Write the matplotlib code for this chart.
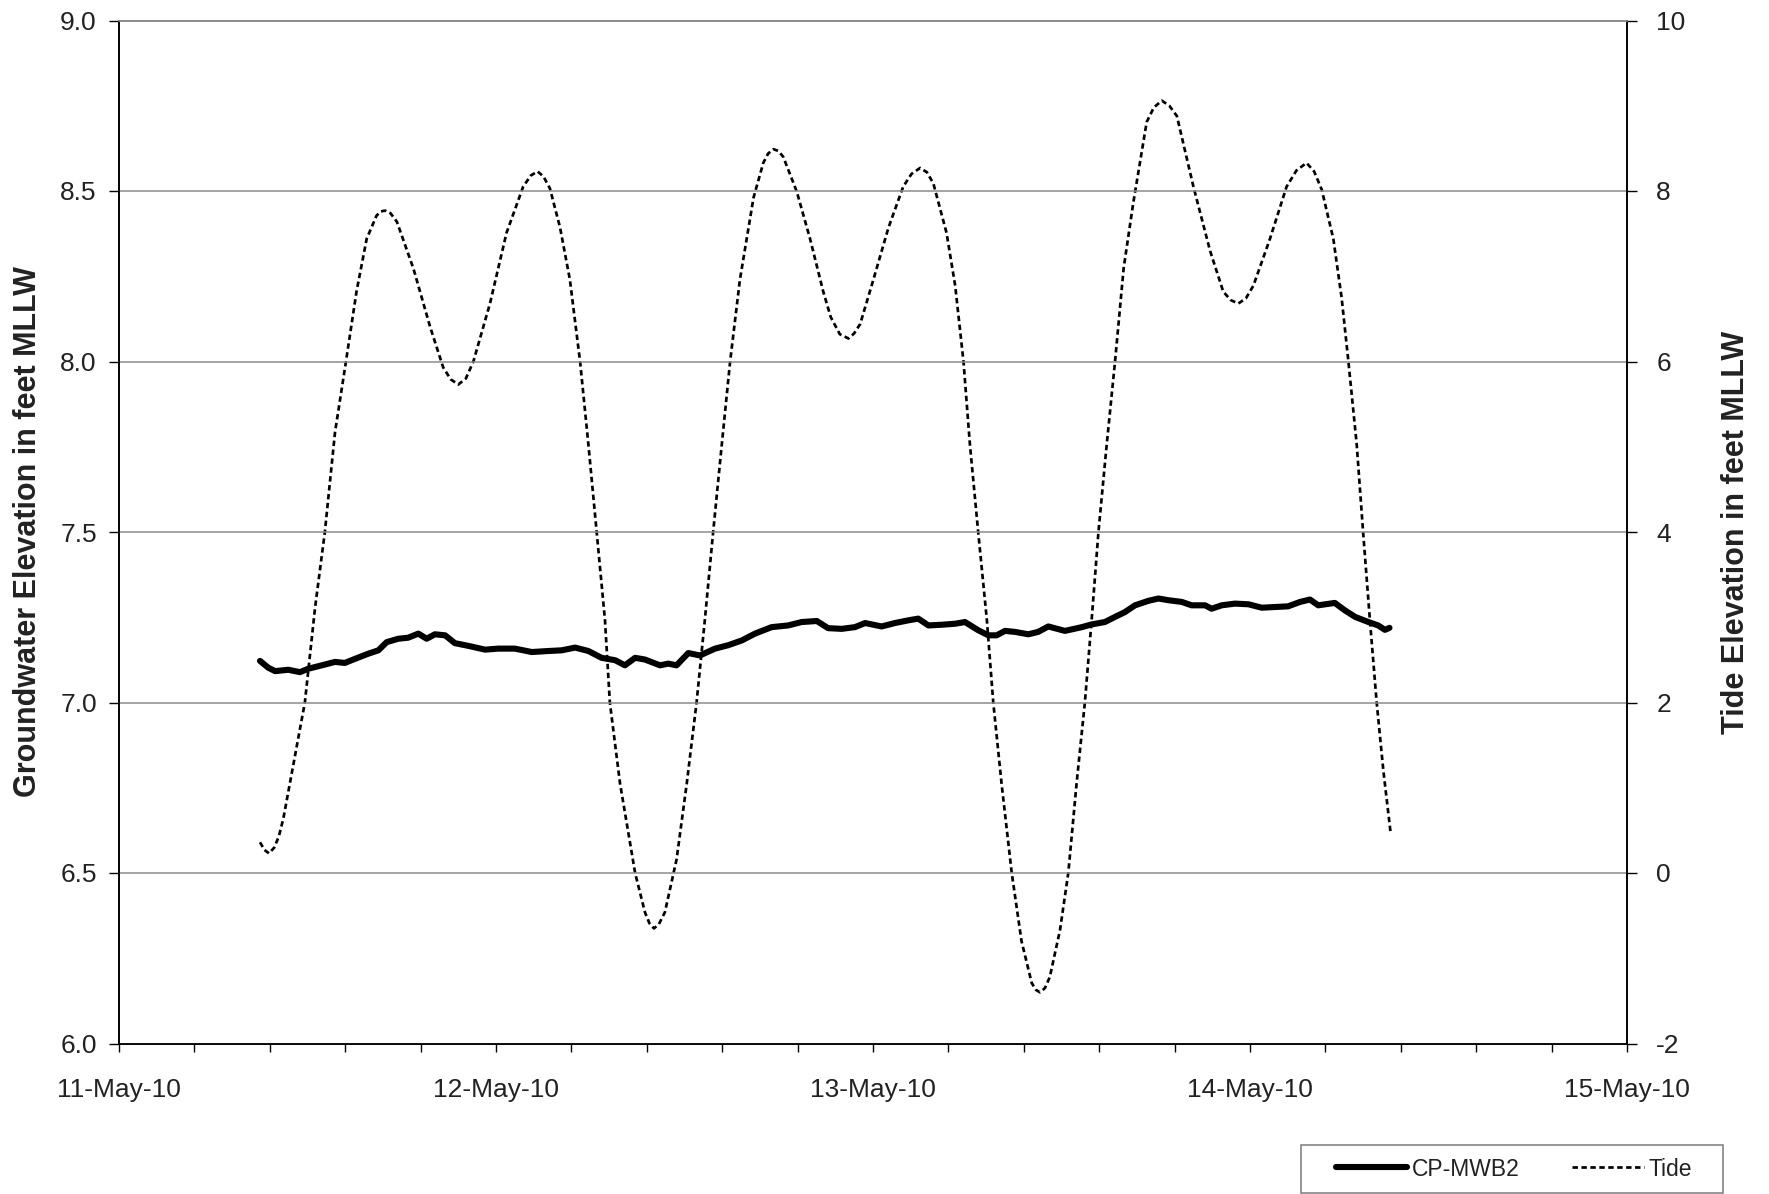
import datetime as dt
import matplotlib
matplotlib.use("Agg")
import matplotlib.pyplot as plt
import matplotlib.dates as mdates
from matplotlib.ticker import MultipleLocator, FormatStrFormatter
from matplotlib.patches import Rectangle

plt.rcParams["font.family"] = ["Liberation Sans", "DejaVu Sans"]
plt.rcParams["axes.unicode_minus"] = False

# Series start reference: times are stored as fractional days after 11-May-2010 00:00
start = dt.datetime(2010, 5, 11)

# Tide elevation (ft MLLW), right axis
tide_day = [
    0.374, 0.386, 0.398, 0.412, 0.424, 0.436, 0.462, 0.493, 0.520, 0.546,
    0.573, 0.602, 0.630, 0.657, 0.683, 0.694, 0.706, 0.720, 0.737, 0.781,
    0.825, 0.860, 0.880, 0.900, 0.920, 0.940, 0.984, 1.028, 1.072, 1.092,
    1.110, 1.126, 1.143, 1.170, 1.196, 1.223, 1.245, 1.267, 1.289, 1.302,
    1.329, 1.369, 1.395, 1.407, 1.419, 1.432, 1.448, 1.479, 1.506, 1.532,
    1.554, 1.576, 1.599, 1.621, 1.647, 1.683, 1.709, 1.722, 1.736, 1.749,
    1.762, 1.798, 1.833, 1.868, 1.888, 1.912, 1.935, 1.950, 1.966, 2.001,
    2.041, 2.080, 2.102, 2.125, 2.143, 2.160, 2.195, 2.218, 2.240, 2.257,
    2.279, 2.302, 2.319, 2.341, 2.368, 2.394, 2.421, 2.432, 2.443, 2.456,
    2.469, 2.496, 2.518, 2.540, 2.562, 2.580, 2.598, 2.620, 2.642, 2.665,
    2.690, 2.726, 2.745, 2.766, 2.786, 2.806, 2.850, 2.894, 2.929, 2.949,
    2.969, 2.989, 3.009, 3.053, 3.097, 3.123, 3.150, 3.170, 3.190, 3.221,
    3.243, 3.261, 3.283, 3.300, 3.318, 3.336, 3.354, 3.373,
]
tide_ft = [
    0.36, 0.27, 0.23, 0.30, 0.43, 0.64, 1.26, 2.00, 3.11, 4.00,
    5.17, 6.00, 6.82, 7.44, 7.71, 7.76, 7.77, 7.74, 7.64, 7.09,
    6.41, 5.93, 5.79, 5.73, 5.80, 6.00, 6.68, 7.51, 8.05, 8.18,
    8.23, 8.17, 8.03, 7.57, 6.96, 6.00, 5.03, 4.00, 2.97, 2.00,
    1.05, 0.00, -0.46, -0.59, -0.65, -0.60, -0.46, 0.16, 1.05, 2.00,
    2.97, 4.00, 5.03, 6.00, 6.96, 7.92, 8.33, 8.44, 8.49, 8.47,
    8.40, 7.99, 7.44, 6.82, 6.52, 6.32, 6.27, 6.33, 6.44, 6.96,
    7.57, 8.05, 8.20, 8.27, 8.22, 8.09, 7.51, 6.89, 6.00, 5.03,
    4.00, 2.97, 2.00, 1.05, 0.00, -0.80, -1.29, -1.37, -1.40, -1.35,
    -1.22, -0.67, 0.00, 1.05, 2.00, 2.97, 4.00, 5.03, 6.00, 7.10,
    7.85, 8.81, 8.98, 9.06, 9.00, 8.88, 8.05, 7.30, 6.82, 6.72,
    6.68, 6.74, 6.89, 7.44, 8.05, 8.24, 8.33, 8.23, 8.02, 7.44,
    6.75, 6.00, 5.03, 4.00, 2.97, 2.00, 1.19, 0.47,
]

# Groundwater elevation at CP-MWB2 (ft MLLW), left axis
gw_day = [
    0.374, 0.396, 0.414, 0.449, 0.480, 0.502, 0.538, 0.573, 0.599, 0.626,
    0.661, 0.688, 0.710, 0.741, 0.767, 0.794, 0.816, 0.838, 0.865, 0.891,
    0.927, 0.971, 1.006, 1.050, 1.095, 1.139, 1.174, 1.210, 1.245, 1.280,
    1.316, 1.342, 1.369, 1.395, 1.435, 1.457, 1.479, 1.510, 1.541, 1.581,
    1.616, 1.652, 1.687, 1.731, 1.775, 1.811, 1.851, 1.881, 1.917, 1.952,
    1.979, 2.023, 2.058, 2.094, 2.120, 2.147, 2.182, 2.218, 2.244, 2.279,
    2.306, 2.328, 2.350, 2.377, 2.412, 2.438, 2.465, 2.509, 2.554, 2.580,
    2.615, 2.642, 2.668, 2.695, 2.730, 2.757, 2.783, 2.819, 2.845, 2.881,
    2.898, 2.925, 2.960, 2.996, 3.031, 3.066, 3.101, 3.133, 3.159, 3.181,
    3.225, 3.252, 3.279, 3.314, 3.340, 3.358, 3.370,
]
gw_ft = [
    7.122, 7.102, 7.092, 7.096, 7.089, 7.099, 7.109, 7.119, 7.116, 7.128,
    7.143, 7.153, 7.177, 7.187, 7.190, 7.202, 7.187, 7.200, 7.197, 7.174,
    7.166, 7.155, 7.158, 7.158, 7.148, 7.151, 7.153, 7.161, 7.151, 7.131,
    7.124, 7.109, 7.131, 7.126, 7.109, 7.114, 7.109, 7.145, 7.138, 7.158,
    7.168, 7.182, 7.202, 7.221, 7.226, 7.236, 7.239, 7.218, 7.216, 7.221,
    7.233, 7.223, 7.233, 7.241, 7.246, 7.226, 7.228, 7.231, 7.236, 7.212,
    7.197, 7.197, 7.210, 7.207, 7.200, 7.207, 7.223, 7.210, 7.221, 7.229,
    7.236, 7.251, 7.265, 7.285, 7.298, 7.305, 7.300, 7.295, 7.285, 7.285,
    7.275, 7.285, 7.290, 7.288, 7.278, 7.280, 7.282, 7.295, 7.302, 7.285,
    7.292, 7.270, 7.251, 7.236, 7.226, 7.213, 7.219,
]

series_names = ["CP-MWB2", "Tide"]
left_title = "Groundwater Elevation in feet MLLW"
right_title = "Tide Elevation in feet MLLW"

tide_t = [start + dt.timedelta(days=d) for d in tide_day]
gw_t = [start + dt.timedelta(days=d) for d in gw_day]

W, H = 1769, 1194
fig = plt.figure(figsize=(W / 100, H / 100), dpi=100)
L, R, T, B = 119, 1627, 20.5, 1043.5
ax = fig.add_axes([L / W, 1 - B / H, (R - L) / W, (B - T) / H])
ax2 = ax.twinx()

txt_color = "#222222"
grid_color = "#8c8c8c"
tick_fs = 19

# Tide on the right axis, dashed
ax2.plot(tide_t, tide_ft, color="black", lw=1.95, ls=(0, (2.0, 1.3)),
         dash_joinstyle="round", label=series_names[1], zorder=2)
# Groundwater on the left axis, heavy solid
ax.plot(gw_t, gw_ft, color="black", lw=4.4, solid_capstyle="round",
        solid_joinstyle="round", label=series_names[0], zorder=3)

ax.set_zorder(ax2.get_zorder() + 1)
ax.patch.set_visible(False)

ax.set_xlim(dt.datetime(2010, 5, 11), dt.datetime(2010, 5, 15))
ax.set_ylim(6.0, 9.0)
ax2.set_ylim(-2, 10)

ax.xaxis.set_major_locator(mdates.DayLocator())
ax.xaxis.set_major_formatter(mdates.DateFormatter("%d-%b-%y"))
ax.xaxis.set_minor_locator(MultipleLocator(0.2))
ax.yaxis.set_major_locator(MultipleLocator(0.5))
ax.yaxis.set_major_formatter(FormatStrFormatter("%.1f"))
ax2.yaxis.set_major_locator(MultipleLocator(2))

ax.yaxis.grid(True, color=grid_color, lw=1.1)
ax.set_axisbelow(True)

for a in (ax, ax2):
    for s in a.spines.values():
        s.set_linewidth(1.2)
        s.set_color("black")
    a.spines["top"].set_color(grid_color)

ax.tick_params(axis="x", which="both", direction="out", length=6, width=1,
               pad=19, labelsize=tick_fs, labelcolor=txt_color)
ax.tick_params(axis="y", which="major", direction="out", length=7, width=1,
               pad=9, labelsize=tick_fs, labelcolor=txt_color)
ax2.tick_params(axis="y", which="major", direction="out", length=7, width=1,
                pad=14, labelsize=tick_fs, labelcolor=txt_color)

ax.set_ylabel(left_title, fontsize=22, fontweight="bold", color=txt_color,
              va="center", rotation=90)
ax.yaxis.set_label_coords((28 - L) / (R - L), 0.5)
ax2.set_ylabel(right_title, fontsize=22, fontweight="bold", color=txt_color,
               va="center", rotation=90)
ax2.yaxis.set_label_coords((1736 - L) / (R - L), 0.5)

# Legend in a gray box at the lower right
bx0, bx1, by0, by1 = 1301, 1723, 1145, 1193
fig.patches.append(Rectangle((bx0 / W, 1 - by1 / H), (bx1 - bx0) / W,
                             (by1 - by0) / H, transform=fig.transFigure,
                             fill=False, edgecolor="#7a7a7a", lw=1.1))
h1, l1 = ax.get_legend_handles_labels()
h2, l2 = ax2.get_legend_handles_labels()
fig.legend(h1 + h2, l1 + l2, loc="center",
           bbox_to_anchor=(1514 / W, 1 - (by0 + by1) / 2 / H),
           ncol=2, frameon=False, fontsize=16.5, handlelength=3.1,
           handletextpad=0.2, columnspacing=2.3, labelcolor=txt_color)

fig.savefig("out.png", dpi=100)
